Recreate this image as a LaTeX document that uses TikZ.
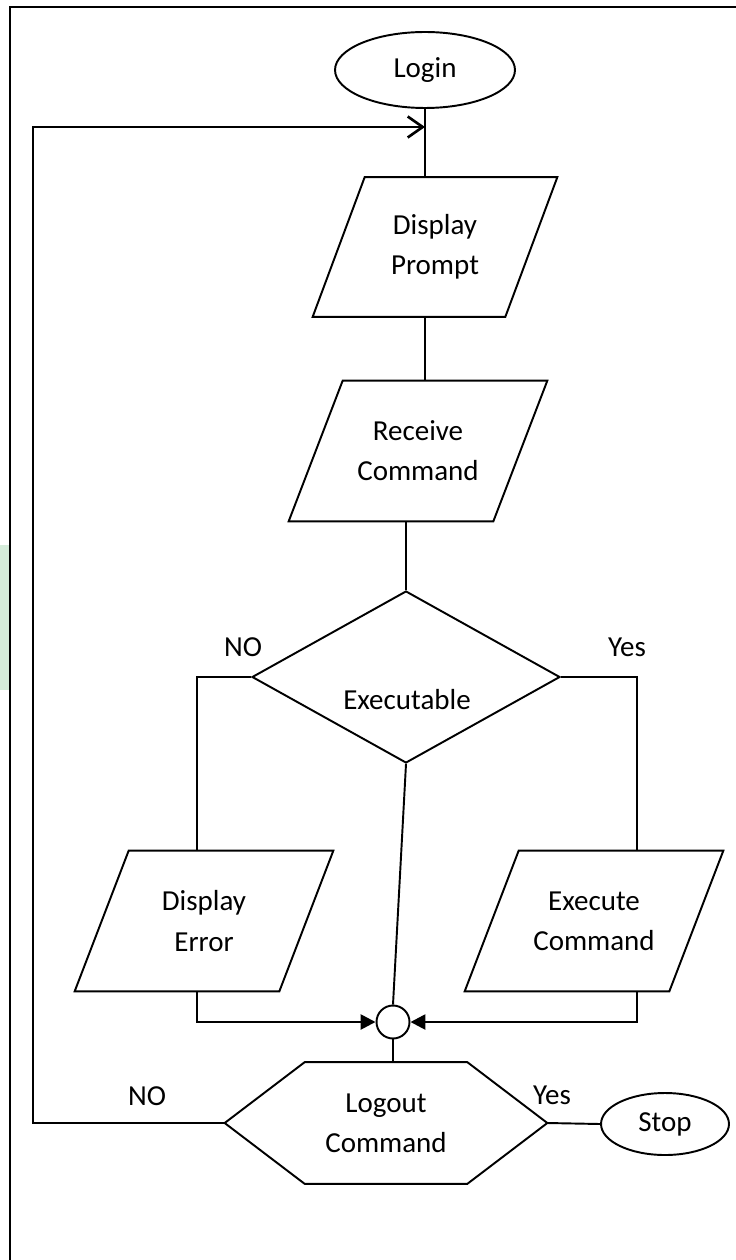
\documentclass[tikz,border=0pt]{standalone}
\usepackage{fontspec}
\setmainfont{Carlito}
\usetikzlibrary{arrows.meta, positioning, shapes.geometric, calc}
\definecolor{mint}{HTML}{D5ECDA}

\begin{document}
\begin{tikzpicture}[
    x=0.02cm, y=-0.02cm,
    line/.style={line width=1.1pt},
    term/.style={draw, line width=1.1pt, ellipse, inner sep=0pt},
    io/.style={align=center, inner sep=0pt, minimum width=4.08cm, minimum height=2.8cm},
    decision/.style={draw, line width=1.1pt, diamond, minimum width=6.16cm,
                     minimum height=3.44cm, inner sep=0pt},
    junction/.style={draw, line width=1.1pt, circle, minimum size=0.66cm, inner sep=0pt},
    arr/.style={line width=1.5pt, -{Triangle[length=0.3cm, width=0.3cm]}},
    back/.style={line width=1.5pt, -{Straight Barb[length=0.3cm, width=0.42cm]}},
    every node/.append style={font=\fontsize{16.5}{22.8}\selectfont}
  ]
  \useasboundingbox (0,0) rectangle (736,1260);

  % page frame
  \fill[mint] (0,545) rectangle (9,690);
  \draw[line width=1.7pt] (10,1260) -- (10,7) -- (736,7);

  \node[term, minimum width=3.6cm, minimum height=1.52cm] (login) at (425,70) {Login};
  \node[io, minimum width=3.84cm, minimum height=2.78cm] (prompt) at (435,247) {Display\\Prompt};
  \node[io] (receive) at (418,451) {Receive\\Command};
  \node[decision] (exe) at (406,677) {};
  \node (exetxt) at (407,700) {Executable};
  \node[io] (err) at (204,921) {Display\\Error};
  \node[io] (exc) at (594,921) {Execute\\Command};
  \node[junction] (junc) at (393,1022) {};
  \node[minimum width=3.24cm, minimum height=2.42cm, inner sep=0pt, align=center]
       (logout) at (386,1123) {Logout\\Command};
  \node[term, minimum width=2.56cm, minimum height=1.24cm] (stop) at (665,1124) {Stop};

  \node (no1) at (243,647) {NO};
  \node (yes1) at (627,647) {Yes};
  \node (no2) at (147,1096) {NO};
  \node (yes2) at (552,1095) {Yes};

  % slanted boxes round the input/output nodes
  \foreach \n/\s in {prompt/26, receive/27, err/27, exc/27}
    \draw[line] ($(\n.north west)+(\s,0)$) -- ($(\n.north east)+(\s,0)$)
      -- ($(\n.south east)+(-\s,0)$) -- ($(\n.south west)+(-\s,0)$) -- cycle;

  \coordinate (noX) at (197,0);
  \coordinate (yesX) at (637,0);
  \coordinate (loopX) at (33,0);
  \coordinate (ret) at (425,127);
  \coordinate (logoutL) at ($(logout.west)+(-80,0)$);
  \coordinate (logoutR) at ($(logout.east)+(80,0)$);

  % hexagon round the logout text
  \draw[line] (logout.north west) -- (logout.north east) -- (logoutR)
    -- (logout.south east) -- (logout.south west) -- (logoutL) -- cycle;

  \draw[line] (login.south) -- (login.south |- prompt.north);
  \draw[line] (login.south |- prompt.south) -- (login.south |- receive.north);
  \draw[line] (exe.north |- receive.south) -- (exe.north);
  \draw[line] (exe.west) -| (noX |- err.north);
  \draw[line] (exe.east) -| (yesX |- exc.north);
  \draw[line] (exe.south) -- (junc.north);
  \draw[arr] (noX |- err.south) |- (junc.west);
  \draw[arr] (yesX |- exc.south) |- (junc.east);
  \draw[line] (junc.south) -- (junc.south |- logout.north);
  \draw[line] (logoutR) -- (stop.west);
  \draw[back] (logoutL) -| (loopX |- ret) -- (ret);
\end{tikzpicture}
\end{document}
